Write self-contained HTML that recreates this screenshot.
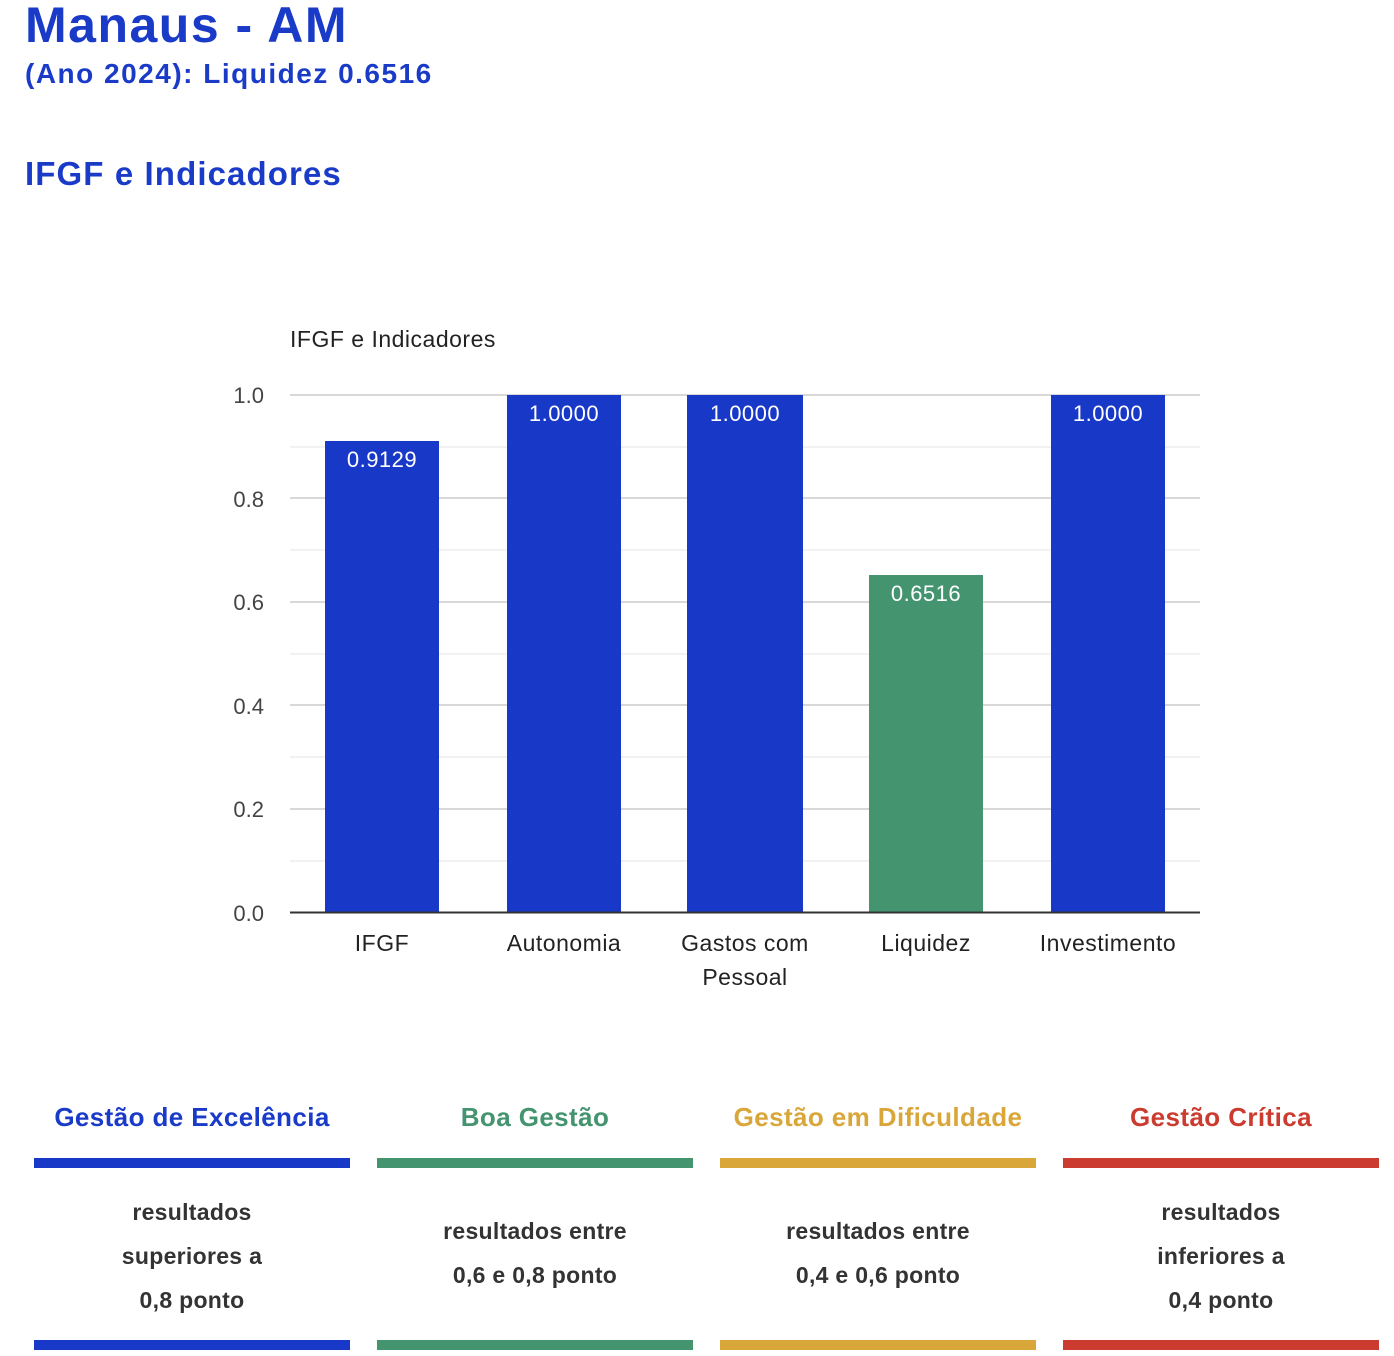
<!DOCTYPE html>
<html><head><meta charset="utf-8"><style>
body{margin:0;width:1394px;height:1356px;background:#fff;font-family:"Liberation Sans",sans-serif;position:relative;overflow:hidden}
.a{position:absolute;white-space:nowrap}
.t{color:#1a3ac8;font-weight:bold}
.lg{position:absolute;width:316px;text-align:center}
.lg .h{font-size:26px;font-weight:bold;position:absolute;top:0;width:100%;letter-spacing:0.4px}
.lg .b1{position:absolute;top:56px;height:10px;width:100%}
.lg .b2{position:absolute;top:238px;height:10px;width:100%}
.lg .d{position:absolute;width:100%;font-size:23px;font-weight:bold;color:#333;line-height:44px;letter-spacing:0.3px}
</style></head><body>
<div class="a t" style="left:25px;top:-4px;font-size:50px;letter-spacing:1.5px">Manaus - AM</div>
<div class="a t" style="left:25px;top:58px;font-size:28px;letter-spacing:1.5px">(Ano 2024): Liquidez 0.6516</div>
<div class="a t" style="left:25px;top:155px;font-size:33px;letter-spacing:1.1px">IFGF e Indicadores</div>
<svg class="a" style="left:0;top:0" width="1394" height="1010">
<g font-family="Liberation Sans, sans-serif">
<text x="290" y="347" font-size="23" fill="#222" letter-spacing="0.5">IFGF e Indicadores</text>
<g stroke="#e6e6e6" stroke-width="1">
<line x1="290" x2="1200" y1="447" y2="447"/><line x1="290" x2="1200" y1="550" y2="550"/><line x1="290" x2="1200" y1="654" y2="654"/><line x1="290" x2="1200" y1="757" y2="757"/><line x1="290" x2="1200" y1="861" y2="861"/>
</g>
<g stroke="#ccc" stroke-width="1.5">
<line x1="290" x2="1200" y1="395" y2="395"/><line x1="290" x2="1200" y1="498" y2="498"/><line x1="290" x2="1200" y1="602" y2="602"/><line x1="290" x2="1200" y1="705" y2="705"/><line x1="290" x2="1200" y1="809" y2="809"/>
</g>
<g font-size="22" fill="#444" text-anchor="end">
<text x="264" y="403">1.0</text><text x="264" y="507">0.8</text><text x="264" y="610">0.6</text><text x="264" y="714">0.4</text><text x="264" y="817">0.2</text><text x="264" y="921">0.0</text>
</g>
<rect x="325" y="441" width="114" height="471" fill="#1838c8"/>
<rect x="507" y="395" width="114" height="517" fill="#1838c8"/>
<rect x="687" y="395" width="116" height="517" fill="#1838c8"/>
<rect x="869" y="575" width="114" height="337" fill="#459470"/>
<rect x="1051" y="395" width="114" height="517" fill="#1838c8"/>
<line x1="290" x2="1200" y1="912.5" y2="912.5" stroke="#333" stroke-width="2"/>
<g font-size="22" fill="#fff" text-anchor="middle" letter-spacing="0.5">
<text x="382" y="467">0.9129</text><text x="564" y="421">1.0000</text><text x="745" y="421">1.0000</text><text x="926" y="601">0.6516</text><text x="1108" y="421">1.0000</text>
</g>
<g font-size="23" fill="#222" text-anchor="middle" letter-spacing="0.5">
<text x="382" y="951">IFGF</text><text x="564" y="951">Autonomia</text><text x="745" y="951">Gastos com</text><text x="745" y="985">Pessoal</text><text x="926" y="951">Liquidez</text><text x="1108" y="951">Investimento</text>
</g></g></svg>
<div class="lg" style="left:34px;top:1102px"><div class="h" style="color:#1a3ac8">Gestão de Excelência</div><div class="b1" style="background:#1838c8"></div><div class="d" style="top:88px">resultados<br>superiores a<br>0,8 ponto</div><div class="b2" style="background:#1838c8"></div></div>
<div class="lg" style="left:377px;top:1102px"><div class="h" style="color:#459470">Boa Gestão</div><div class="b1" style="background:#459470"></div><div class="d" style="top:107px">resultados entre<br>0,6 e 0,8 ponto</div><div class="b2" style="background:#459470"></div></div>
<div class="lg" style="left:720px;top:1102px"><div class="h" style="color:#d9a63a">Gestão em Dificuldade</div><div class="b1" style="background:#d9a63a"></div><div class="d" style="top:107px">resultados entre<br>0,4 e 0,6 ponto</div><div class="b2" style="background:#d9a63a"></div></div>
<div class="lg" style="left:1063px;top:1102px"><div class="h" style="color:#cc3b2f">Gestão Crítica</div><div class="b1" style="background:#cc3b2f"></div><div class="d" style="top:88px">resultados<br>inferiores a<br>0,4 ponto</div><div class="b2" style="background:#cc3b2f"></div></div>
</body></html>
